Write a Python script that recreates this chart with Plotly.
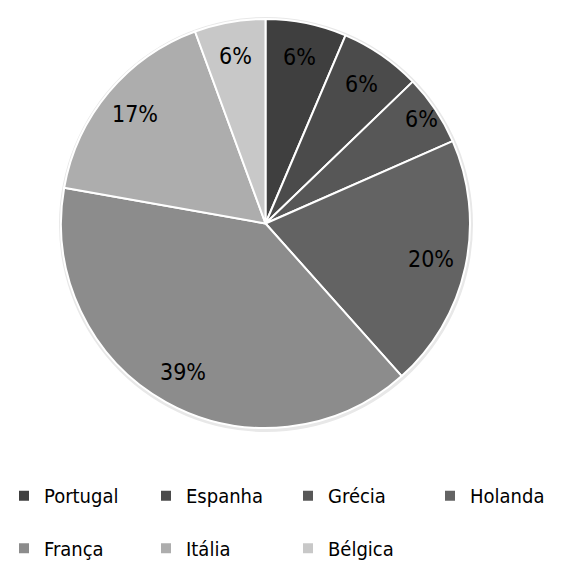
import math
import plotly.graph_objects as go

# Share of each country (percent)
paises = ["Portugal", "Espanha", "Grécia", "Holanda", "França", "Itália", "Bélgica"]
valores = [6.4, 6.4, 5.6, 20.0, 39.4, 16.6, 5.6]
cores = ["#3f3f3f", "#4b4b4b", "#575757", "#636363", "#8c8c8c", "#adadad", "#c8c8c8"]

W, H = 565, 563
FONT = "DejaVu Sans Condensed, Liberation Sans Narrow, sans-serif"

# pie geometry in pixels
cx, cy, r = 265.5, 223.5, 204.5

# legend entries are padded to two lines so the rows sit further apart
legend_labels = ["<span style='font-size:20px'>%s</span><br> " % p for p in paises]

fig = go.Figure(go.Pie(
    labels=legend_labels,
    values=valores,
    customdata=paises,
    sort=False,
    direction="clockwise",
    rotation=0,
    marker=dict(colors=cores, line=dict(color="white", width=2)),
    textinfo="none",
    hovertemplate="%{customdata}: %{percent}<extra></extra>",
    domain=dict(x=[(cx - r) / W, (cx + r) / W], y=[1 - (cy + r) / H, 1 - (cy - r) / H]),
))

# percentage labels placed along each slice's mid-angle
total = sum(valores)
acc = 0.0
for p, v in zip(paises, valores):
    mid = (acc + v / 2) / total * 2 * math.pi
    acc += v
    rr = r * (0.92 if p == "Grécia" else 0.83)
    fig.add_annotation(
        x=(cx + rr * math.sin(mid)) / W,
        y=1 - (cy - rr * math.cos(mid)) / H,
        xref="paper", yref="paper",
        text="%d%%" % round(v / total * 100),
        showarrow=False,
        font=dict(family=FONT, size=23, color="black"),
        xanchor="center", yanchor="middle",
    )

# soft shadow behind the pie
fig.add_shape(
    type="circle", xref="paper", yref="paper", layer="below",
    x0=(cx - r - 2) / W, x1=(cx + r + 3) / W,
    y0=1 - (cy + r + 4) / H, y1=1 - (cy - r - 2) / H,
    fillcolor="#e8e8e8", line=dict(width=0),
)

fig.update_layout(
    width=W, height=H,
    margin=dict(l=0, r=0, t=0, b=0, autoexpand=False),
    paper_bgcolor="white",
    plot_bgcolor="white",
    font=dict(family=FONT, color="black"),
    legend=dict(
        orientation="h",
        x=4 / W, xanchor="left",
        y=1 - 477 / H, yanchor="top",
        valign="top",
        entrywidth=97,
        font=dict(family=FONT, size=19, color="black"),
        traceorder="normal",
    ),
)

fig.write_html("out.html")
